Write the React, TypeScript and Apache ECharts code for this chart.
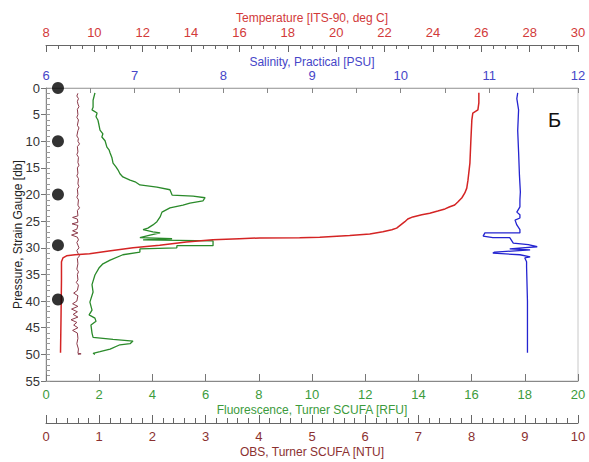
import React, { useEffect, useRef } from "react";
import * as echarts from "echarts";

// Pressure ticks
const pressureTicks = [0, 5, 10, 15, 20, 25, 30, 35, 40, 45, 50, 55];

// Temperature profile: [temperature degC, pressure db]
const temperatureProfile: [number, number][] = [
  [25.9, 0.9], [25.9, 2.8], [25.86, 4.1], [25.65, 4.7], [25.61, 6.0], [25.57, 9.8],
  [25.53, 14.1], [25.45, 17.3], [25.4, 18.8], [25.32, 19.7], [25.2, 20.6], [25.03, 21.4],
  [24.9, 21.95], [24.7, 22.3], [24.5, 22.7], [24.2, 23.1], [23.87, 23.5], [23.54, 23.8],
  [23.17, 24.2], [22.96, 24.6], [22.84, 25.1], [22.67, 25.7], [22.5, 26.3], [22.3, 26.6],
  [21.93, 27.0], [21.39, 27.4], [20.56, 27.7], [19.32, 28.0], [18.49, 28.1], [16.84, 28.15],
  [16.0, 28.3], [14.9, 28.5], [13.8, 28.9], [12.7, 29.5], [11.6, 30.0], [10.6, 30.6],
  [9.8, 31.1], [9.2, 31.3], [8.85, 31.5], [8.7, 31.9], [8.64, 32.6], [8.64, 36.0],
  [8.62, 43.5], [8.6, 49.7],
];

// Salinity profile: [PSU, pressure db]
const salinityProfile: [number, number][] = [
  [11.32, 0.9], [11.31, 2.0], [11.33, 4.1], [11.32, 8.0], [11.33, 12.0], [11.34, 16.5],
  [11.35, 19.5], [11.345, 21.0], [11.345, 22.3], [11.31, 23.3], [11.345, 23.8],
  [11.345, 24.4], [11.29, 24.8], [11.31, 25.7], [11.345, 26.6], [11.345, 27.2],
  [10.95, 27.2], [10.93, 27.8], [11.04, 28.1], [11.23, 28.1], [11.27, 29.1], [11.44, 29.4],
  [11.54, 29.8], [11.37, 30.0], [11.23, 30.2], [11.46, 30.4], [11.06, 30.8], [11.04, 31.0],
  [11.345, 31.3], [11.46, 31.7], [11.4, 31.9], [11.42, 32.6], [11.42, 33.6], [11.43, 40.0],
  [11.43, 49.7],
];

// Fluorescence profile: [RFU, pressure db]
const fluorescenceProfile: [number, number][] = [
  [1.84, 0.9], [1.77, 2.3], [1.77, 3.6], [1.73, 4.1], [1.92, 4.7], [1.88, 5.4], [1.95, 6.0],
  [1.99, 6.9], [2.03, 7.9], [2.14, 8.6], [2.1, 9.2], [2.22, 9.9], [2.29, 11.1], [2.37, 11.6],
  [2.41, 12.2], [2.48, 13.1], [2.52, 14.1], [2.63, 14.8], [2.71, 15.4], [2.78, 16.1],
  [2.89, 16.7], [3.16, 17.3], [3.35, 17.6], [3.53, 18.2], [4.17, 18.6], [4.66, 19.1],
  [4.74, 20.1], [5.53, 20.3], [5.98, 20.6], [5.9, 21.2], [5.41, 21.6], [5.15, 22.0],
  [4.66, 22.5], [4.36, 23.3], [4.29, 24.2], [4.17, 25.1], [4.02, 25.7], [3.83, 26.3],
  [3.65, 26.6], [4.02, 27.0], [4.29, 27.2], [3.91, 27.6], [3.53, 28.1], [4.74, 28.3],
  [3.65, 28.5], [6.28, 28.7], [6.28, 29.6], [4.92, 29.6], [4.92, 30.0], [3.53, 30.2],
  [3.53, 30.8], [2.89, 31.3], [2.41, 32.3], [2.14, 33.0], [1.99, 33.8], [1.84, 35.1],
  [1.73, 36.9], [1.77, 38.3], [1.65, 40.2], [1.73, 41.7], [1.62, 42.6], [1.84, 43.2],
  [1.88, 43.8], [1.69, 44.5], [1.73, 46.0], [1.77, 46.8], [2.52, 47.2], [3.27, 47.5],
  [3.16, 48.0], [2.78, 48.2], [2.41, 49.0], [2.03, 49.5], [1.77, 49.8], [1.84, 50.0],
];

// OBS profile: [NTU, pressure db]
const obsProfile: [number, number][] = [
  [0.6, 1], [0.58, 1.5], [0.61, 2], [0.59, 2.5], [0.6, 3], [0.62, 3.5], [0.59, 4], [0.6, 5],
  [0.58, 5.5], [0.61, 6], [0.59, 7], [0.62, 7.5], [0.6, 8], [0.58, 9], [0.61, 9.5], [0.6, 10],
  [0.63, 10.5], [0.59, 11], [0.6, 12], [0.58, 12.5], [0.61, 13], [0.6, 14], [0.62, 14.5],
  [0.59, 15], [0.6, 16], [0.58, 16.5], [0.61, 17], [0.6, 18], [0.62, 18.5], [0.59, 19],
  [0.6, 20], [0.58, 20.5], [0.61, 21], [0.6, 22], [0.63, 22.5], [0.59, 23], [0.6, 24],
  [0.5, 24.3], [0.59, 24.6], [0.6, 25.2], [0.49, 25.5], [0.6, 25.8], [0.58, 26.5], [0.5, 26.8],
  [0.6, 27.2], [0.48, 27.6], [0.59, 28], [0.61, 28.5], [0.58, 29], [0.6, 29.5], [0.62, 30],
  [0.58, 30.5], [0.6, 31], [0.63, 31.5], [0.59, 32], [0.6, 33], [0.58, 34], [0.61, 34.5],
  [0.59, 35], [0.6, 36], [0.57, 36.5], [0.61, 37], [0.59, 38], [0.52, 38.5], [0.6, 39],
  [0.58, 40], [0.5, 40.5], [0.6, 41], [0.48, 41.5], [0.59, 42], [0.51, 42.5], [0.6, 43],
  [0.47, 43.5], [0.58, 44], [0.52, 44.5], [0.6, 45], [0.5, 45.5], [0.59, 46], [0.6, 47],
  [0.58, 48], [0.61, 49], [0.6, 49.8], [0.66, 49.9], [0.6, 50],
];

// Sampling depths (black markers)
const sampleDepths = [0, 10, 20, 29.5, 39.7];
const sampleMarkerX = 0.45; // on fluorescence scale

const FONT = "Liberation Sans, Arial, sans-serif";
const RED = "#d23a3a";
const BLUE = "#4646c8";
const GREEN = "#3c9b3c";
const BROWN = "#8b3030";

export default function App() {
  const ref = useRef<HTMLDivElement>(null);
  useEffect(() => {
    if (!ref.current) return;
    const chart = echarts.init(ref.current, undefined, { renderer: "svg" });
    const baseLabel = { fontFamily: FONT, fontSize: 13 };
    const option: any = {
      animation: false,
      backgroundColor: "#ffffff",
      grid: {
        left: 46,
        right: 11,
        top: 88,
        bottom: 81,
        containLabel: false,
        outerBoundsMode: "none",
        show: true,
        borderColor: "#c8c8c8",
        borderWidth: 1,
      },
      xAxis: [
        {
          type: "value",
          position: "top",
          offset: 43,
          min: 8,
          max: 30,
          interval: 2,
          name: "Temperature [ITS-90, deg C]",
          nameLocation: "middle",
          nameGap: 21,
          nameMoveOverlap: false,
          nameTextStyle: { ...baseLabel, fontSize: 12, color: RED },
          axisLine: { show: true, onZero: false, lineStyle: { color: "#666", width: 1 } },
          axisTick: { show: true, inside: true, length: 7, lineStyle: { color: "#666" } },
          minorTick: { show: true, splitNumber: 4, length: 4, lineStyle: { color: "#666" } },
          axisLabel: { ...baseLabel, color: RED, margin: 6 },
          splitLine: { show: false },
        },
        {
          type: "value",
          position: "top",
          offset: 0,
          min: 6,
          max: 12,
          interval: 1,
          name: "Salinity, Practical [PSU]",
          nameLocation: "middle",
          nameGap: 20,
          nameMoveOverlap: false,
          nameTextStyle: { ...baseLabel, fontSize: 12, color: BLUE },
          axisLine: { show: true, onZero: false, lineStyle: { color: "#aaa", width: 1 } },
          axisTick: { show: true, inside: true, length: 5, lineStyle: { color: "#888" } },
          minorTick: { show: true, splitNumber: 2, length: 5, lineStyle: { color: "#888" } },
          axisLabel: { ...baseLabel, color: BLUE, margin: 6 },
          splitLine: { show: false },
        },
        {
          type: "value",
          position: "bottom",
          offset: 0,
          min: 0,
          max: 20,
          interval: 2,
          name: "Fluorescence, Turner SCUFA [RFU]",
          nameLocation: "middle",
          nameGap: 23,
          nameMoveOverlap: false,
          nameTextStyle: { ...baseLabel, fontSize: 12, color: GREEN },
          axisLine: { show: true, onZero: false, lineStyle: { color: "#888", width: 1 } },
          axisTick: { show: true, inside: true, length: 7, lineStyle: { color: "#777" } },
          axisLabel: { ...baseLabel, color: GREEN, margin: 7 },
          splitLine: { show: false },
        },
        {
          type: "value",
          position: "bottom",
          offset: 42,
          min: 0,
          max: 10,
          interval: 1,
          name: "OBS, Turner SCUFA [NTU]",
          nameLocation: "middle",
          nameGap: 23,
          nameMoveOverlap: false,
          nameTextStyle: { ...baseLabel, fontSize: 12, color: BROWN },
          axisLine: { show: true, onZero: false, lineStyle: { color: "#666", width: 1 } },
          axisTick: { show: true, inside: true, length: 8, lineStyle: { color: "#666" } },
          minorTick: { show: true, splitNumber: 5, length: 5, lineStyle: { color: "#666" } },
          axisLabel: { ...baseLabel, color: BROWN, margin: 7 },
          splitLine: { show: false },
        },
      ],
      yAxis: [
        {
          type: "value",
          inverse: true,
          min: pressureTicks[0],
          max: pressureTicks[pressureTicks.length - 1],
          interval: 5,
          name: "Pressure, Strain Gauge [db]",
          nameLocation: "middle",
          nameGap: 22,
          nameMoveOverlap: false,
          nameTextStyle: { ...baseLabel, fontSize: 12, color: "#222" },
          axisLine: { show: true, onZero: false, lineStyle: { color: "#888", width: 1 } },
          axisTick: { show: true, inside: false, length: 5, lineStyle: { color: "#777" } },
          axisLabel: { ...baseLabel, color: "#333", margin: 6 },
          splitLine: { show: false },
        },
        {
          type: "value",
          inverse: true,
          min: pressureTicks[0],
          max: pressureTicks[pressureTicks.length - 1],
          interval: 1,
          position: "left",
          axisLine: { show: false, onZero: false },
          axisTick: { show: true, inside: true, length: 4, lineStyle: { color: "#999" } },
          axisLabel: { show: false },
          splitLine: { show: false },
        },
      ],
      series: [
        {
          type: "line",
          name: "OBS",
          xAxisIndex: 3,
          yAxisIndex: 0,
          data: obsProfile,
          showSymbol: false,
          lineStyle: { color: "#8b3a4a", width: 1 },
        },
        {
          type: "line",
          name: "Fluorescence",
          xAxisIndex: 2,
          yAxisIndex: 0,
          data: fluorescenceProfile,
          showSymbol: false,
          lineStyle: { color: "#2a8a2a", width: 1.3 },
        },
        {
          type: "line",
          name: "Salinity",
          xAxisIndex: 1,
          yAxisIndex: 0,
          data: salinityProfile,
          showSymbol: false,
          lineStyle: { color: "#2424d0", width: 1.3 },
        },
        {
          type: "line",
          name: "Temperature",
          xAxisIndex: 0,
          yAxisIndex: 0,
          data: temperatureProfile,
          showSymbol: false,
          lineStyle: { color: "#d42424", width: 1.5 },
        },
        {
          type: "scatter",
          name: "Samples",
          xAxisIndex: 2,
          yAxisIndex: 0,
          data: sampleDepths.map((p) => [sampleMarkerX, p]),
          symbol: "circle",
          symbolSize: 12,
          clip: false,
          itemStyle: { color: "#000" },
          z: 10,
        },
      ],
      graphic: [
        {
          type: "text",
          left: 548,
          top: 110,
          style: { text: "Б", fontFamily: FONT, fontSize: 20, fill: "#111" },
        },
      ],
    };
    chart.setOption(option);
    return () => chart.dispose();
  }, []);
  return (
    <div
      ref={ref}
      style={{ position: "fixed", left: 0, top: 0, width: 589, height: 462 }}
    />
  );
}
